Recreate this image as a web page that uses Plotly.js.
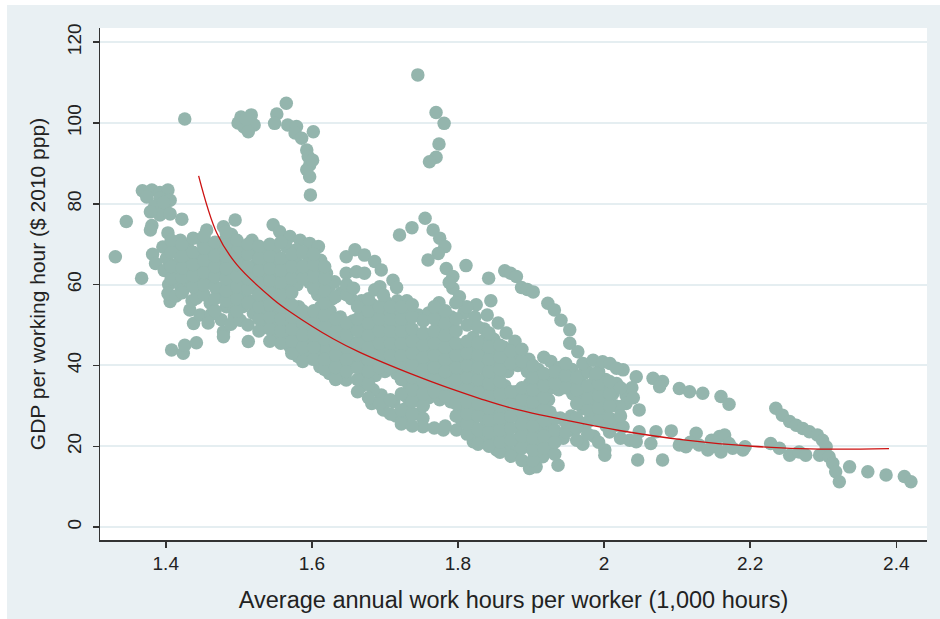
<!DOCTYPE html>
<html>
<head>
<meta charset="utf-8">
<script src="https://cdn.plot.ly/plotly-3.0.1.min.js"></script>
<style>
  html, body { margin: 0; padding: 0; background: #ffffff; }
  #chart { position: absolute; left: 7px; top: 5px; width: 933px; height: 614px; }
</style>
</head>
<body>
<div id="chart"></div>
<script>
// ---- Data (x = 1,000 hours, y = GDP per working hour) ----
const topOutliers = [
  [1.426,101.0],
  [1.503,101.5],[1.517,102.0],[1.507,99.0],[1.521,99.5],[1.513,97.8],[1.499,100.0],[1.510,101.0],
  [1.552,102.2],[1.549,99.9],[1.565,104.9],[1.567,99.5],[1.579,99.1],[1.577,97.5],[1.586,96.2],[1.602,97.8],
  [1.593,93.3],[1.595,91.7],[1.597,89.6],[1.593,88.4],[1.597,86.7],[1.601,90.8],[1.598,82.2],
  [1.745,111.9],[1.770,102.6],[1.781,99.9],[1.774,94.8],[1.770,91.5],[1.761,90.4]
];
const leftGroup = [
  [1.331,66.9],[1.346,75.6],[1.367,61.6],
  [1.368,83.2],[1.381,83.4],[1.392,82.8],[1.403,83.4],[1.374,81.7],[1.392,81.4],[1.406,80.9],
  [1.385,79.5],[1.399,79.0],[1.392,77.2],[1.406,77.5],[1.379,78.0],[1.397,80.3],
  [1.381,74.6],[1.379,73.5],[1.422,76.2],
  [1.382,67.5],[1.386,65.2],
  [1.396,69.3],[1.401,66.5],[1.398,63.5],[1.404,60.0],[1.406,55.8],[1.403,57.8],
  [1.403,72.8],[1.415,70.5],[1.417,67.7],[1.413,64.8],[1.415,62.8],[1.419,60.0],[1.414,57.2],[1.408,43.8],
  [1.420,71.0],[1.430,69.1],[1.432,66.3],[1.428,63.5],[1.424,58.7],[1.431,61.0],[1.433,53.7],[1.438,50.4],
  [1.424,43.0],[1.426,45.0],[1.436,56.0],
  [1.451,70.2],[1.445,67.5],[1.447,64.5],[1.447,61.1],[1.442,58.5],[1.442,56.6],[1.442,45.6],[1.447,52.5]
];
const cloudWest = [
  [1.456,73.5],[1.460,68.3],[1.462,65.8],[1.458,63.0],[1.460,60.5],[1.470,58.7],[1.461,55.4],[1.462,52.6],[1.458,50.5],
  [1.479,74.3],[1.481,71.0],[1.476,68.5],[1.478,65.5],[1.475,62.5],[1.483,54.5],[1.479,57.0],[1.476,51.3],
  [1.479,48.3],[1.479,47.1],[1.483,60.0],
  [1.495,76.0],[1.490,72.4],[1.492,69.5],[1.489,66.5],[1.493,63.7],[1.490,60.8],[1.492,58.0],[1.490,55.3],[1.494,52.3],[1.489,50.2],
  [1.502,51.2],[1.505,54.5],[1.507,57.5],[1.503,60.5],[1.506,63.3],[1.504,66.2],[1.508,69.0],[1.513,45.9],[1.520,52.9],
  [1.520,56.0],[1.522,59.2],[1.519,62.0],[1.523,65.0],[1.520,68.0],[1.518,71.0],
  [1.533,50.4],[1.535,53.5],[1.537,56.5],[1.533,59.5],[1.538,62.5],[1.535,65.5],[1.533,68.0],
  [1.547,74.8],[1.556,73.1],[1.547,47.1],[1.549,50.0],[1.551,53.0],[1.548,56.0],[1.552,59.0],[1.549,62.0],[1.552,65.0],[1.549,68.0],
  [1.570,71.9],[1.565,69.4],[1.570,44.6],[1.566,47.5],[1.564,50.5],[1.567,53.5],[1.563,56.5],[1.566,59.8],[1.564,63.0],[1.567,66.0],
  [1.584,71.0],[1.579,68.6],[1.581,42.2],[1.580,45.5],[1.582,48.5],[1.578,51.5],[1.582,54.5],[1.580,60.0],[1.583,63.0],[1.579,65.5],
  [1.597,70.2],[1.596,66.5],[1.594,63.5],[1.597,60.5],[1.595,52.5],[1.593,49.5],[1.597,46.5],[1.594,43.5],
  [1.609,69.4],[1.611,39.7],[1.612,42.5],[1.608,45.5],[1.611,48.5],[1.609,51.5],[1.612,54.5],[1.608,57.5],[1.611,60.5],[1.609,63.5],[1.612,66.0],
  [1.620,62.8],[1.620,44.2],[1.626,40.5],[1.624,38.0],[1.627,47.5],[1.623,50.5],[1.625,53.5],[1.628,56.5],[1.624,59.5],
  [1.631,60.7],[1.638,37.2],[1.641,40.0],[1.640,43.0],[1.637,46.0],[1.641,49.0],[1.639,52.0],[1.640,58.0],[1.647,62.8],[1.647,66.9]
];
const cloudCentre = [
  [1.657,39.7],[1.647,36.4],[1.655,42.5],[1.657,45.5],[1.653,48.5],[1.656,51.0],[1.654,56.5],
  [1.669,35.0],[1.672,38.0],[1.668,41.0],[1.671,44.0],[1.669,47.0],[1.673,50.0],[1.670,53.0],[1.668,56.0],
  [1.682,30.6],[1.695,32.7],[1.684,34.0],[1.687,37.5],[1.683,40.5],[1.686,43.5],[1.684,46.5],[1.688,49.5],[1.685,52.5],[1.683,55.0],
  [1.698,29.0],[1.700,38.5],[1.702,41.5],[1.698,44.5],[1.701,47.5],[1.699,50.5],[1.703,53.5],[1.700,56.0],
  [1.715,27.5],[1.712,31.0],[1.716,38.0],[1.713,41.0],[1.717,44.0],[1.714,47.0],[1.716,50.0],[1.713,53.0],[1.717,56.0],
  [1.725,26.5],[1.730,29.5],[1.728,32.5],[1.732,35.5],[1.729,38.5],[1.731,41.5],[1.728,44.5],[1.732,47.5],[1.729,50.5],[1.733,53.5],[1.730,56.0],
  [1.745,28.0],[1.743,31.5],[1.747,34.5],[1.744,37.5],[1.746,40.5],[1.742,43.5],[1.747,46.5],[1.746,52.5],
  [1.752,26.9],[1.752,24.8],[1.760,32.0],[1.762,35.0],[1.758,38.0],[1.761,41.0],[1.759,44.0],[1.763,47.0],[1.760,53.0],
  [1.780,24.0],[1.775,31.5],[1.777,34.5],[1.773,37.5],[1.776,40.5],[1.774,43.5],[1.778,46.5],[1.775,49.5],[1.777,52.5],[1.774,55.5],
  [1.798,24.0],[1.790,31.0],[1.792,34.0],[1.789,37.0],[1.793,40.0],[1.790,43.0],[1.792,46.0],[1.788,49.0],[1.791,52.0],
  [1.805,26.5],[1.808,29.5],[1.804,32.5],[1.807,35.5],[1.803,38.5],[1.806,41.5],[1.804,44.5],[1.808,53.0]
];
const cloudEast = [
  [1.821,21.1],[1.825,23.2],[1.820,26.0],[1.822,29.0],[1.819,32.0],[1.823,35.0],[1.820,38.0],[1.822,41.0],[1.818,44.0],[1.821,47.0],[1.823,52.0],[1.825,55.0],
  [1.835,22.0],[1.837,25.0],[1.833,28.0],[1.836,31.0],[1.834,34.0],[1.838,37.0],[1.835,40.0],[1.837,43.0],[1.834,46.0],[1.836,49.0],[1.840,52.5],[1.845,56.0],
  [1.853,19.1],[1.850,22.5],[1.852,25.5],[1.848,28.5],[1.851,31.5],[1.849,34.5],[1.853,37.5],[1.850,40.5],[1.852,43.5],[1.849,46.5],[1.855,50.5],
  [1.866,20.0],[1.864,23.0],[1.867,26.0],[1.863,29.0],[1.866,32.0],[1.864,35.0],[1.868,38.5],[1.865,41.5],[1.863,44.5],[1.866,48.0],
  [1.880,18.6],[1.880,21.5],[1.882,24.5],[1.878,27.5],[1.881,30.5],[1.879,33.5],[1.882,40.0],[1.880,43.0],[1.878,46.0],
  [1.898,14.5],[1.905,17.8],[1.907,14.9],[1.895,20.5],[1.897,23.5],[1.893,26.5],[1.896,29.5],[1.894,32.5],[1.898,35.5],[1.895,38.5],[1.897,41.5],
  [1.916,17.4],[1.910,21.0],[1.912,24.0],[1.916,24.8],[1.908,27.0],[1.911,30.0],[1.909,33.0],[1.913,36.0],[1.910,39.0],
  [1.937,15.3],[1.925,19.5],[1.927,22.5],[1.923,25.5],[1.926,28.5],[1.924,31.5],[1.928,34.5],[1.925,37.5],[1.927,41.0],
  [1.944,22.0],[1.940,27.0],[1.938,34.0],[1.941,36.5],[1.939,39.5],
  [1.953,24.0],[1.955,27.5],[1.957,33.0],[1.953,36.0],[1.956,39.0],
  [1.971,29.4],[1.971,20.5],[1.970,32.5],[1.968,35.5],[1.972,38.0],[1.969,25.5],
  [1.985,30.5],[1.983,33.5],[1.987,36.0],[1.984,27.5],[1.986,22.5],
  [2.001,19.1],[2.001,17.8],[2.000,31.0],[1.998,34.0],[2.002,36.5],[1.999,28.0],[2.003,25.0],
  [2.017,25.2],[2.015,30.0],[2.012,33.0],[2.017,35.5],[2.026,38.9],[2.030,32.7],[2.030,30.6],[2.021,29.8],[2.026,24.8],
  [2.035,21.5],[2.044,37.2],[2.048,29.0],[2.048,23.6],[2.044,21.1],[2.046,16.6],[2.038,34.5],[2.040,32.0]
];
// extra observations read between the rows of the densest part of the cloud
const cloudFillWest = [
  [1.4075,61.5],[1.4075,64.5],[1.4075,68.0],[1.4075,71.0],
  [1.4225,58.0],[1.4225,61.8],[1.4225,64.2],[1.4225,67.0],[1.4225,70.0],
  [1.4375,59.5],[1.4375,62.2],[1.4375,65.0],[1.4375,68.0],[1.4375,71.5],
  [1.4525,57.5],[1.4525,60.0],[1.4525,63.0],[1.4525,66.0],[1.4525,69.0],[1.4525,72.0],
  [1.4675,53.5],[1.4675,56.5],[1.4675,59.5],[1.4675,62.0],[1.4675,64.5],[1.4675,67.0],[1.4675,70.5],
  [1.4825,56.0],[1.4825,58.5],[1.4825,61.5],[1.4825,64.0],[1.4825,67.0],[1.4825,70.0],[1.4825,73.0],
  [1.4975,53.5],[1.4975,56.5],[1.4975,59.5],[1.4975,62.0],[1.4975,65.0],[1.4975,68.0],[1.4975,71.0],
  [1.5125,50.0],[1.5125,55.5],[1.5125,59.0],[1.5125,61.5],[1.5125,64.5],[1.5125,67.5],[1.5125,70.0],
  [1.5275,48.5],[1.5275,51.5],[1.5275,54.5],[1.5275,57.5],[1.5275,60.5],[1.5275,63.5],[1.5275,66.5],[1.5275,69.5],
  [1.5425,46.0],[1.5425,49.0],[1.5425,52.0],[1.5425,55.0],[1.5425,58.0],[1.5425,61.0],[1.5425,64.0],[1.5425,67.0],[1.5425,70.0],
  [1.5575,45.5],[1.5575,48.5],[1.5575,51.5],[1.5575,54.5],[1.5575,57.5],[1.5575,60.5],[1.5575,63.5],[1.5575,66.5],[1.5575,70.5],
  [1.5725,43.0],[1.5725,46.0],[1.5725,49.0],[1.5725,52.0],[1.5725,55.0],[1.5725,58.0],[1.5725,61.5],[1.5725,64.5],[1.5725,67.5],
  [1.5875,41.0],[1.5875,44.5],[1.5875,47.5],[1.5875,50.5],[1.5875,53.5],[1.5875,61.5],[1.5875,64.5],[1.5875,68.0],
  [1.6025,41.5],[1.6025,44.5],[1.6025,47.5],[1.6025,50.5],[1.6025,53.5],[1.6025,59.0],[1.6025,62.0],[1.6025,65.0],[1.6025,67.5],
  [1.6175,39.0],[1.6175,41.5],[1.6175,46.5],[1.6175,49.5],[1.6175,52.5],[1.6175,55.5],[1.6175,58.5],[1.6175,61.5],[1.6175,64.5],
  [1.6325,36.5],[1.6325,39.5],[1.6325,42.5],[1.6325,45.5],[1.6325,48.5],[1.6325,51.5],[1.6325,57.0],
  [1.6475,38.5],[1.6475,41.5],[1.6475,44.5],[1.6475,47.5],[1.6475,50.5],[1.6475,57.5],[1.6475,60.0]
];
const cloudFillEast = [
  [1.6625,33.5],[1.6625,36.5],[1.6625,39.5],[1.6625,42.5],[1.6625,45.5],[1.6625,48.5],[1.6625,51.5],[1.6625,54.5],
  [1.6775,32.0],[1.6775,35.5],[1.6775,38.5],[1.6775,41.5],[1.6775,44.5],[1.6775,47.5],[1.6775,50.5],[1.6775,53.5],[1.6775,56.5],
  [1.6925,30.5],[1.6925,39.5],[1.6925,42.5],[1.6925,45.5],[1.6925,48.5],[1.6925,51.5],[1.6925,54.5],
  [1.7075,28.0],[1.7075,31.5],[1.7075,39.5],[1.7075,42.5],[1.7075,45.5],[1.7075,48.5],[1.7075,51.5],[1.7075,54.5],
  [1.7225,25.5],[1.7225,29.0],[1.7225,33.0],[1.7225,36.5],[1.7225,39.5],[1.7225,42.5],[1.7225,45.5],[1.7225,48.5],[1.7225,51.5],[1.7225,54.5],
  [1.7375,25.0],[1.7375,28.0],[1.7375,31.0],[1.7375,34.0],[1.7375,37.0],[1.7375,40.0],[1.7375,43.0],[1.7375,46.0],[1.7375,49.0],[1.7375,52.0],[1.7375,55.0],
  [1.7525,30.0],[1.7525,33.0],[1.7525,36.0],[1.7525,39.0],[1.7525,42.0],[1.7525,45.0],[1.7525,48.0],[1.7525,51.0],
  [1.7675,24.5],[1.7675,33.5],[1.7675,36.5],[1.7675,39.5],[1.7675,42.5],[1.7675,45.5],[1.7675,48.5],[1.7675,51.5],[1.7675,54.5],
  [1.7825,25.0],[1.7825,32.5],[1.7825,35.5],[1.7825,38.5],[1.7825,41.5],[1.7825,44.5],[1.7825,47.5],[1.7825,50.5],[1.7825,53.5],
  [1.7975,27.5],[1.7975,30.5],[1.7975,33.5],[1.7975,36.5],[1.7975,39.5],[1.7975,42.5],[1.7975,45.5],[1.7975,48.5],[1.7975,51.5],
  [1.8125,23.0],[1.8125,25.5],[1.8125,28.0],[1.8125,31.0],[1.8125,34.0],[1.8125,37.0],[1.8125,40.0],[1.8125,43.0],[1.8125,46.0],[1.8125,50.0],
  [1.8275,20.5],[1.8275,24.0],[1.8275,27.5],[1.8275,30.5],[1.8275,33.5],[1.8275,36.5],[1.8275,39.5],[1.8275,42.5],[1.8275,45.5],[1.8275,49.5],
  [1.8425,20.0],[1.8425,23.5],[1.8425,26.5],[1.8425,29.5],[1.8425,32.5],[1.8425,35.5],[1.8425,38.5],[1.8425,41.5],[1.8425,44.5],[1.8425,48.0],
  [1.8575,18.5],[1.8575,21.0],[1.8575,24.0],[1.8575,27.0],[1.8575,30.0],[1.8575,33.0],[1.8575,36.0],[1.8575,39.0],[1.8575,42.0],[1.8575,45.0],
  [1.8725,17.5],[1.8725,21.5],[1.8725,24.5],[1.8725,27.5],[1.8725,30.5],[1.8725,33.5],[1.8725,40.5],[1.8725,43.5],
  [1.8875,16.5],[1.8875,19.5],[1.8875,22.5],[1.8875,25.5],[1.8875,28.5],[1.8875,31.5],[1.8875,34.5],[1.8875,41.0],[1.8875,44.0],
  [1.9025,16.5],[1.9025,19.0],[1.9025,22.0],[1.9025,25.0],[1.9025,28.0],[1.9025,31.0],[1.9025,34.0],[1.9025,37.0],[1.9025,40.0],
  [1.9175,19.5],[1.9175,22.5],[1.9175,26.5],[1.9175,29.0],[1.9175,32.0],[1.9175,35.0],[1.9175,38.0],[1.9175,42.0],
  [1.9325,18.0],[1.9325,21.0],[1.9325,24.0],[1.9325,27.0],[1.9325,35.5],[1.9325,38.5],
  [1.9475,23.5],[1.9475,26.0],[1.9475,34.5],[1.9475,37.5],[1.9475,40.5],
  [1.9625,21.5],[1.9625,24.5],[1.9625,27.0],[1.9625,30.5],[1.9625,34.0],[1.9625,37.0],
  [1.9775,23.0],[1.9775,26.0],[1.9775,29.0],[1.9775,32.0],[1.9775,35.0],[1.9775,38.5],
  [1.9925,21.0],[1.9925,26.5],[1.9925,29.5],[1.9925,32.5],[1.9925,35.5],[1.9925,38.5],
  [2.0075,23.5],[2.0075,27.0],[2.0075,30.0],[2.0075,33.0],[2.0075,36.0],
  [2.0225,22.0],[2.0225,27.5],[2.0225,34.5]
];
const upperArms = [
  [1.659,68.6],[1.672,67.3],[1.686,65.7],[1.695,63.6],[1.661,63.2],[1.672,62.8],[1.711,61.1],[1.716,59.3],
  [1.693,59.5],[1.686,58.7],[1.698,57.4],[1.657,59.1],
  [1.755,76.4],[1.737,74.1],[1.720,72.3],[1.766,73.5],[1.775,71.5],[1.782,69.4],[1.773,67.7],[1.759,66.1],
  [1.784,64.0],[1.811,64.7],[1.793,62.0],[1.793,59.1],[1.802,57.0],[1.812,54.5],[1.788,60.5],[1.797,55.5],
  [1.842,61.6],[1.864,63.4],[1.872,62.8],[1.880,62.0],[1.887,59.3],[1.895,58.8],[1.903,58.2],[1.923,55.4],
  [1.932,53.7],[1.941,51.2],[1.953,48.8],[1.953,45.5],[1.964,43.4],[1.971,40.5],[1.985,41.3],[1.998,40.9],
  [2.008,40.5],[2.017,39.3],[1.989,38.0]
];
const rightGroup = [
  [2.067,36.8],[2.080,36.0],[2.076,34.7],[2.103,34.3],[2.117,33.5],[2.135,33.1],[2.160,32.3],[2.171,30.4],
  [2.064,20.7],[2.071,23.6],[2.080,16.6],[2.092,23.8],[2.103,20.3],[2.112,19.9],[2.126,23.2],[2.130,20.3],
  [2.142,19.1],[2.153,19.9],[2.158,22.4],[2.165,22.8],[2.171,20.7],[2.160,18.6],[2.190,19.1],[2.118,21.0],
  [2.147,21.5],[2.176,19.5],[2.193,19.9],
  [2.235,29.4],[2.244,27.7],[2.254,26.1],[2.263,25.2],[2.272,24.4],[2.281,23.6],[2.292,22.8],[2.299,21.5],
  [2.304,19.9],[2.295,17.8],[2.308,17.4],[2.313,15.8],[2.317,13.7],[2.322,11.2],
  [2.228,20.7],[2.240,19.5],[2.254,17.8],[2.267,18.6],[2.276,17.8],
  [2.336,14.9],[2.361,13.7],[2.386,12.9],[2.411,12.5],[2.420,11.2]
];
// fitted curve, read at points along the red line
const fitHours = [1.445,1.470,1.497,1.547,1.570,1.629,1.665,1.743,1.789,1.830,1.880,1.971,2.021,2.112,2.203,2.295,2.390];
const fitGdp   = [86.9,72.7,65.0,56.4,53.3,46.6,43.3,37.4,34.3,31.8,29.1,25.6,23.9,21.5,20.0,19.3,19.4];

const yTicks = [0, 20, 40, 60, 80, 100, 120];
const xTicks = [1.4, 1.6, 1.8, 2, 2.2, 2.4];
const xTickLabels = ['1.4', '1.6', '1.8', '2', '2.2', '2.4'];

const allPoints = [].concat(topOutliers, leftGroup, cloudWest, cloudCentre, cloudEast,
                            cloudFillWest, cloudFillEast, upperArms, rightGroup);

const scatter = {
  type: 'scatter', mode: 'markers',
  x: allPoints.map(p => p[0]),
  y: allPoints.map(p => p[1]),
  marker: { color: '#94b5ad', size: 13.5, line: { width: 0 } },
  hoverinfo: 'skip', showlegend: false
};
const fit = {
  type: 'scatter', mode: 'lines',
  x: fitHours, y: fitGdp,
  line: { color: '#cc1111', width: 1.3, shape: 'spline', smoothing: 1 },
  hoverinfo: 'skip', showlegend: false
};

const font = { family: '"Liberation Sans", Arial, sans-serif', color: '#222222' };

const layout = {
  width: 933, height: 614,
  paper_bgcolor: '#e9f0f3',
  plot_bgcolor: '#ffffff',
  margin: { l: 93, r: 13, t: 23, b: 79, pad: 0 },
  font: font,
  showlegend: false,
  xaxis: {
    range: [1.310, 2.442],
    tickvals: xTicks, ticktext: xTickLabels,
    ticks: 'outside', ticklen: 6, tickwidth: 1.5, tickcolor: '#333333',
    showline: true, linecolor: '#333333', linewidth: 1.5,
    showgrid: false, zeroline: false,
    tickfont: { family: font.family, size: 19, color: '#222222' },
    ticklabelstandoff: 0,
    title: { text: 'Average annual work hours per worker (1,000 hours)', font: { family: font.family, size: 23.5, color: '#222222' }, standoff: 18 }
  },
  yaxis: {
    range: [-3.2, 123.5],
    tickvals: yTicks,
    ticks: 'outside', ticklen: 6, tickwidth: 1.5, tickcolor: '#333333',
    showline: true, linecolor: '#333333', linewidth: 1.5,
    showgrid: true, gridcolor: '#e5eef1', gridwidth: 2, zeroline: false,
    tickangle: -90,
    tickfont: { family: font.family, size: 19, color: '#222222' },
    ticklabelstandoff: 4,
    title: { text: 'GDP per working hour ($ 2010 ppp)', font: { family: font.family, size: 21, color: '#222222' }, standoff: 12 }
  }
};

Plotly.newPlot('chart', [scatter, fit], layout, { staticPlot: true, displayModeBar: false });
</script>
</body>
</html>
